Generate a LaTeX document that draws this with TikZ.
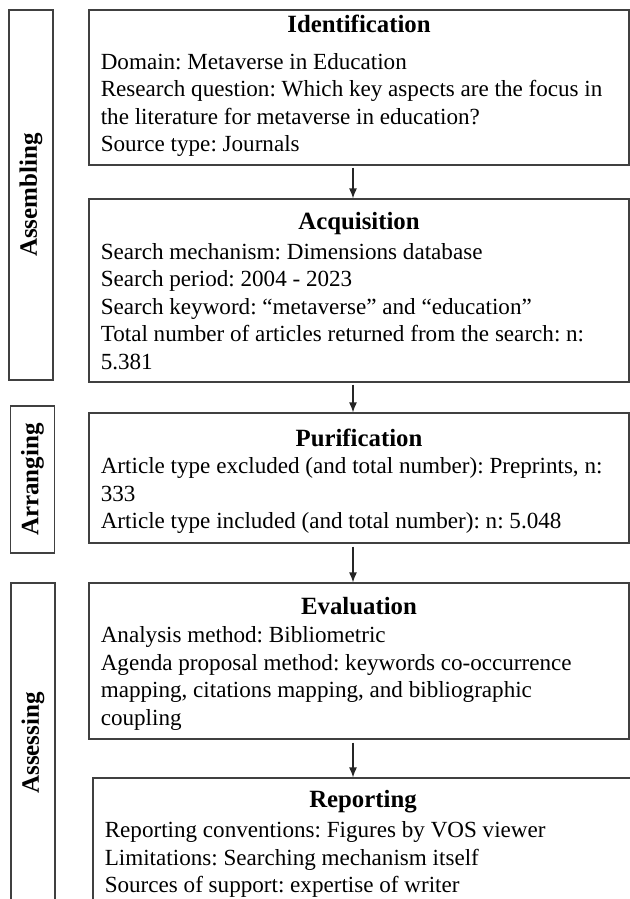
\documentclass[tikz,border=0pt]{standalone}
\usepackage{fontspec}
\setmainfont{Liberation Serif}
\usetikzlibrary{calc}
\usetikzlibrary{arrows.meta}
\frenchspacing

\tikzset{
  stage/.style={draw=black!75, line width=0.6pt, minimum width=270pt, inner sep=0pt},
  phase/.style={draw=black!75, line width=0.6pt, rotate=90, minimum height=22pt, inner sep=0pt,
    font=\fontsize{12.5}{14}\selectfont\bfseries},
  title/.style={anchor=base, inner sep=0pt, font=\fontsize{12.4}{14}\selectfont\bfseries},
  body/.style={anchor=north west, align=left, inner sep=0pt, font=\fontsize{11.55}{13.75}\selectfont\frenchspacing},
  flow/.style={draw=black!85, line width=0.6pt, -{Latex[length=5pt,width=4pt]}}
}

\begin{document}
\begin{tikzpicture}[x=0.5pt, y=-0.5pt]
  \useasboundingbox (0,0) rectangle (630,899);
  \clip (0,0) rectangle (630,899);

  % phases on the left
  \node [phase, minimum width=185pt] (asm) at (31,195) {Assembling};
  \node [phase, minimum width=73.5pt] (arr) at (32.5,479.5) {Arranging};
  \node [phase, minimum width=160pt] (ass) at (33,743) {Assessing};

  % stage boxes
  \node [stage, minimum height=77.5pt] (idf) at (359,87.5) {};
  \node [stage, minimum height=91.5pt] (acq) at (359,290.5) {};
  \node [stage, minimum height=65pt] (pur) at (359,478) {};
  \node [stage, minimum height=78pt] (eva) at (359,661) {};
  \node [stage, minimum height=63.5pt] (rep) at (363,841.5) {};

  \node [title] (idf-t) at ($ (idf.north)+(0,23) $) {Identification};
  \node [body] (idf-b) at ($ (idf.north west)+(12,43.5) $)
    {Domain: Metaverse in Education\\
     Research question: Which key aspects are the focus in\\
     the literature for metaverse in education?\\
     Source type: Journals};

  \node [title] (acq-t) at ($ (acq.north)+(0,31) $) {Acquisition};
  \node [body] (acq-b) at ($ (acq.north west)+(12,44.5) $)
    {Search mechanism: Dimensions database\\
     Search period: 2004 - 2023\\
     Search keyword: “metaverse” and “education”\\
     Total number of articles returned from the search: n:\\
     5.381};

  \node [title] (pur-t) at ($ (pur.north)+(0,34) $) {Purification};
  \node [body] (pur-b) at ($ (pur.north west)+(12,45) $)
    {Article type excluded (and total number): Preprints, n:\\
     333\\
     Article type included (and total number): n: 5.048};

  \node [title] (eva-t) at ($ (eva.north)+(0,32) $) {Evaluation};
  \node [body] (eva-b) at ($ (eva.north west)+(12,44) $)
    {Analysis method: Bibliometric\\
     Agenda proposal method: keywords co-occurrence\\
     mapping, citations mapping, and bibliographic\\
     coupling};

  \node [title] (rep-t) at ($ (rep.north)+(0,30) $) {Reporting};
  \node [body] (rep-b) at ($ (rep.north west)+(12,44) $)
    {Reporting conventions: Figures by VOS viewer\\
     Limitations: Searching mechanism itself\\
     Sources of support: expertise of writer};

  % arrows between stages
  \coordinate (ax) at (353,0);
  \draw [flow] ($ (idf.south -| ax)+(0,2) $) -- (acq.north -| ax);
  \draw [flow] ($ (acq.south -| ax)+(0,2) $) -- (pur.north -| ax);
  \draw [flow] ($ (pur.south -| ax)+(0,3) $) -- (eva.north -| ax);
  \draw [flow] ($ (eva.south -| ax)+(0,3) $) -- (rep.north -| ax);
\end{tikzpicture}
\end{document}
